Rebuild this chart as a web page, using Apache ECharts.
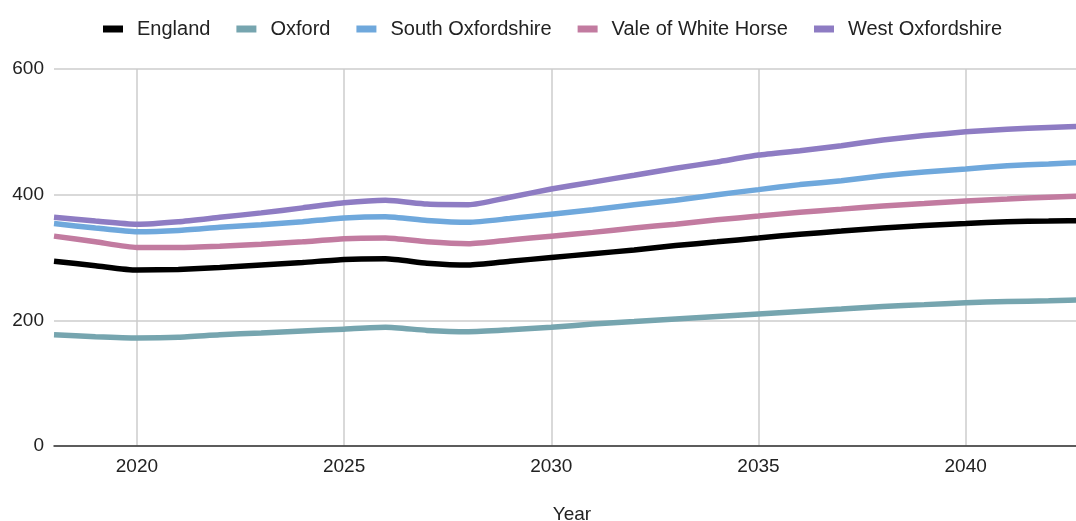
<!DOCTYPE html>
<html>
<head>
<meta charset="utf-8">
<script src="https://cdn.jsdelivr.net/npm/echarts@6/dist/echarts.min.js"></script>
<style>html,body{margin:0;padding:0;background:#fff}#c{width:1076px;height:521px}</style>
</head>
<body>
<div id="c"></div>
<script>
const years = [2018,2019,2020,2021,2022,2023,2024,2025,2026,2027,2028,2029,2030,2031,2032,2033,2034,2035,2036,2037,2038,2039,2040,2041,2042,2043];
const seriesNames = ['England','Oxford','South Oxfordshire','Vale of White Horse','West Oxfordshire'];
const england = [294,287,280,281,284,288,292,297,298,291,288,294,300,306,312,319,325,331,337,342,347,351,354,357,358,359];
const oxford = [177,174,172,173,177,180,183,186,189,184,182,185,189,194,198,202,206,210,214,218,222,225,228,230,231,233];
const southOxfordshire = [354,347,341,343,348,352,357,363,365,359,356,362,369,376,384,391,400,408,416,422,430,436,441,446,449,452];
const valeOfWhiteHorse = [334,325,316,316,318,321,325,330,331,325,322,328,334,340,347,353,360,366,372,377,382,386,390,393,396,398];
const westOxfordshire = [364,358,353,357,364,371,379,387,391,385,384,396,409,420,431,442,452,463,470,478,487,494,500,504,507,509];
const yTicks = [0,200,400,600];
const colors = ['#000000','#76a5af','#6fa8dc','#c27ba0','#8e7cc3'];
const allData = [england, oxford, southOxfordshire, valeOfWhiteHorse, westOxfordshire];

const font = 'Arial, "Liberation Sans", sans-serif';
const chart = echarts.init(document.getElementById('c'), null, {renderer:'canvas'});
chart.setOption({
  animation: false,
  textStyle: {fontFamily: font},
  color: colors,
  legend: {
    top: 14, left: 98,
    icon: 'rect', itemWidth: 20, itemHeight: 7, itemGap: 26,
    textStyle: {fontSize: 20, color: '#222', fontFamily: font, padding: [0,0,0,9]},
    data: seriesNames
  },
  grid: {left: 54, width: 1036, top: 69, bottom: 75, containLabel: false, outerBoundsMode: 'none'},
  xAxis: {
    type: 'category', data: years.map(String), boundaryGap: false,
    name: 'Year', nameLocation: 'middle', nameGap: 59,
    nameTextStyle: {fontSize: 19, color: '#222', fontFamily: font},
    axisLine: {show: true, lineStyle: {color: '#333', width: 1.5}},
    axisTick: {show: false},
    axisLabel: {fontSize: 19, color: '#222', margin: 11, fontFamily: font,
      interval: function(i, v){ return Number(v) % 5 === 0; }},
    splitLine: {show: true, lineStyle: {color: '#ccc', width: 1.5},
      interval: function(i, v){ return Number(v) % 5 === 0; }}
  },
  yAxis: {
    type: 'value', min: yTicks[0], max: yTicks[yTicks.length-1], interval: 200,
    axisLine: {show: false}, axisTick: {show: false},
    axisLabel: {fontSize: 19, color: '#222', margin: 10, fontFamily: font},
    splitLine: {show: true, lineStyle: {color: '#ccc', width: 1.5}}
  },
  series: seriesNames.map((n, i) => ({
    name: n, type: 'line', data: allData[i], smooth: 0.2,
    showSymbol: false, symbol: 'none',
    lineStyle: {width: 5.5, color: colors[i]},
    itemStyle: {color: colors[i]}
  }))
});
</script>
</body>
</html>
